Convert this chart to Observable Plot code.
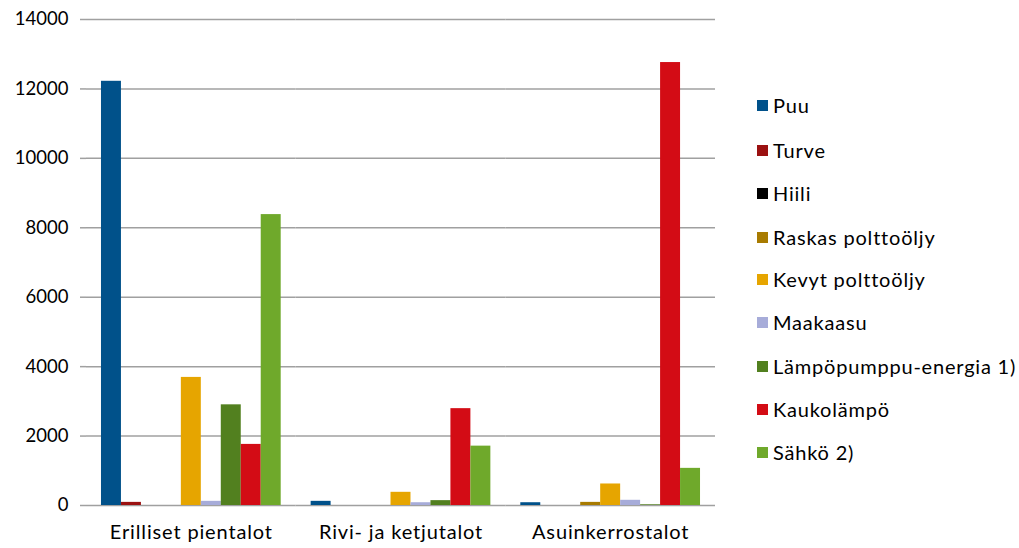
<!DOCTYPE html>
<html>
<head>
<meta charset="utf-8">
<script src="https://cdn.jsdelivr.net/npm/d3@7"></script>
<script src="https://cdn.jsdelivr.net/npm/@observablehq/plot@0.6"></script>
<style>
  html, body { margin: 0; padding: 0; background: #fff; }
  #wrap { position: relative; width: 1019px; height: 548px; font-family: Lato, "Open Sans", sans-serif; }
  #legend { position: absolute; left: 757px; top: 0; }
  .row { position: absolute; left: 0; white-space: nowrap; font-size: 20px; letter-spacing: 0.8px; color: #000; display: flex; align-items: center; height: 22px; }
  .sw { width: 11px; height: 11px; margin-right: 5px; }
  g[aria-label="fx-axis tick label"] text { letter-spacing: 0.85px; }
</style>
</head>
<body>
<div id="wrap"><div id="legend"></div></div>
<script>
const categories = ["Erilliset pientalot", "Rivi- ja ketjutalot", "Asuinkerrostalot"];
const series = ["Puu", "Turve", "Hiili", "Raskas polttoöljy", "Kevyt polttoöljy", "Maakaasu", "Lämpöpumppu-energia 1)", "Kaukolämpö", "Sähkö 2)"];
const colors = ["#00518a", "#9b1111", "#000000", "#a87b00", "#e6a500", "#a7acd9", "#52801f", "#d30c15", "#6fa92b"];
const erillisetPientalot = [12220, 90, 0, 0, 3690, 120, 2900, 1760, 8380];
const riviJaKetjutalot = [120, 0, 0, 0, 380, 80, 140, 2790, 1710];
const asuinkerrostalot = [80, 0, 0, 90, 620, 150, 20, 12760, 1070];
const yTicks = [0, 2000, 4000, 6000, 8000, 10000, 12000, 14000];

const valuesByCategory = [erillisetPientalot, riviJaKetjutalot, asuinkerrostalot];
const data = [];
categories.forEach((c, i) => series.forEach((s, j) => data.push({category: c, series: s, value: valuesByCategory[i][j]})));

const chart = Plot.plot({
  width: 1019,
  height: 548,
  marginLeft: 86,
  marginRight: 304,
  marginTop: 19,
  marginBottom: 43,
  style: {fontFamily: "Lato, 'Open Sans', sans-serif", fontSize: "18px", color: "#000", background: "#fff"},
  fx: {domain: categories, padding: 0, round: false, label: null, axis: null},
  x: {domain: series, axis: null, round: false, paddingInner: 0, paddingOuter: 0.75},
  y: {domain: [0, 14000], axis: null},
  color: {domain: series, range: colors},
  marks: [
    Plot.ruleY(yTicks, {stroke: "#a0a0a0", strokeWidth: 1.5}),
    Plot.barY(data, {fx: "category", x: "series", y: "value", fill: "series", inset: 0}),
    Plot.axisFx({anchor: "bottom", tickSize: 0, tickPadding: 19, label: null, fontSize: 20}),
    Plot.axisY({ticks: yTicks, tickSize: 6, tickPadding: 12, stroke: "#a0a0a0", strokeWidth: 1.5, tickFormat: d => String(d), label: null, fontSize: 18.5}),
    Plot.ruleX([0], {x: () => null, frameAnchor: "left", y1: 0, y2: 14000, stroke: "#a0a0a0", strokeWidth: 1.5, fx: () => categories[0], facet: "include"})
  ]
});
document.getElementById("wrap").prepend(chart);

const legend = document.getElementById("legend");
const rowY = [105, 150, 193, 237, 279, 322, 366, 409, 452];
series.forEach((s, i) => {
  const row = document.createElement("div");
  row.className = "row";
  row.style.top = (rowY[i] - 11) + "px";
  const sw = document.createElement("div");
  sw.className = "sw";
  sw.style.background = colors[i];
  const t = document.createElement("span");
  t.textContent = s;
  row.append(sw, t);
  legend.append(row);
});
</script>
</body>
</html>
